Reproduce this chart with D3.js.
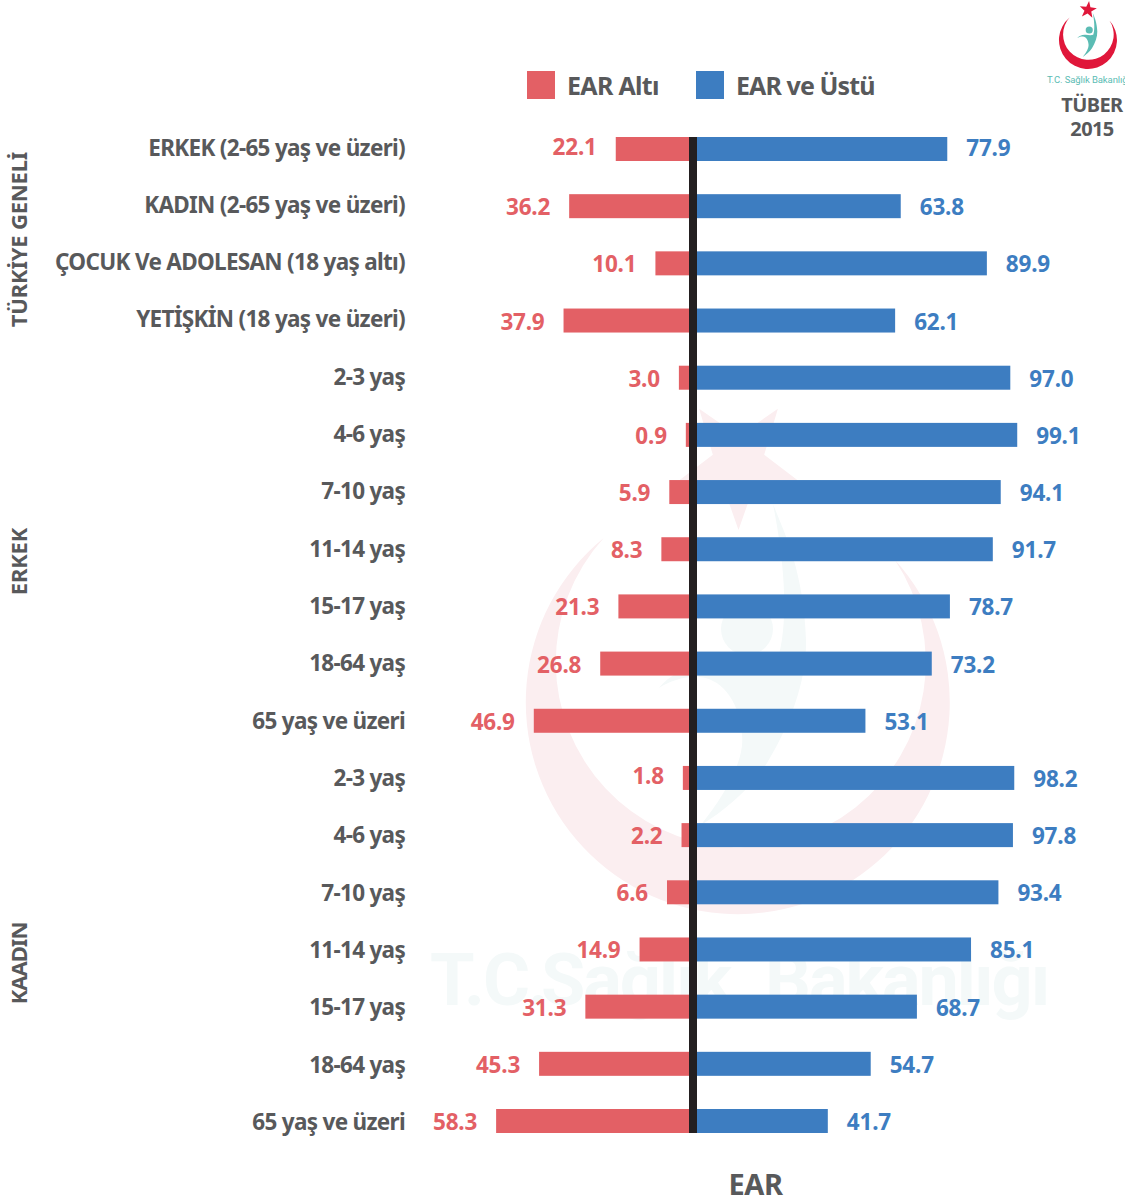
<!DOCTYPE html>
<html lang="tr">
<head>
<meta charset="utf-8">
<title>EAR Altı / EAR ve Üstü</title>
<script src="https://cdn.jsdelivr.net/npm/d3@7/dist/d3.min.js"></script>
<style>
  html, body { margin: 0; padding: 0; background: #fff; }
  svg { display: block; }
  text { font-family: "Noto Sans", Lato, sans-serif; font-weight: 700; }
</style>
</head>
<body>
<svg id="chart" width="1125" height="1202"></svg>
<script>
// Age and sex groups, top to bottom
const categories = [
  "ERKEK (2-65 yaş ve üzeri)", "KADIN (2-65 yaş ve üzeri)",
  "ÇOCUK Ve ADOLESAN (18 yaş altı)", "YETİŞKİN (18 yaş ve üzeri)",
  "2-3 yaş", "4-6 yaş", "7-10 yaş", "11-14 yaş", "15-17 yaş", "18-64 yaş", "65 yaş ve üzeri",
  "2-3 yaş", "4-6 yaş", "7-10 yaş", "11-14 yaş", "15-17 yaş", "18-64 yaş", "65 yaş ve üzeri"
];
const earAlti = [22.1, 36.2, 10.1, 37.9, 3.0, 0.9, 5.9, 8.3, 21.3, 26.8, 46.9, 1.8, 2.2, 6.6, 14.9, 31.3, 45.3, 58.3];
const earUstu = [77.9, 63.8, 89.9, 62.1, 97.0, 99.1, 94.1, 91.7, 78.7, 73.2, 53.1, 98.2, 97.8, 93.4, 85.1, 68.7, 54.7, 41.7];
const sideTitles = ["TÜRKİYE GENELİ", "ERKEK", "KAADIN"];
const legendLabels = ["EAR Altı", "EAR ve Üstü"];
const brandWords = ["T.C.", "Sağlık", "Bakanlığı"];

const RED = "#e36065", BLUE = "#3d7dc1", INK = "#58595b", AXIS = "#231f20";

const svg = d3.select("#chart");
// The two series grow outward from either side of the central line
const xLeft = d3.scaleLinear().domain([0, 60]).range([688.8, 490.5]);
const xRight = d3.scaleLinear().domain([0, 100]).range([690.2, 1020.2]);
const y = d3.scalePoint().domain(d3.range(categories.length)).range([149, 1121]);
const yLabel = d3.scalePoint().domain(d3.range(categories.length)).range([155.5, 1130]);
const BAR_H = 24;

// Star with five points, pointing up when rot is 0
function starPath(cx, cy, R, r, rot) {
  const pts = d3.range(10).map(i => {
    const a = rot + i * Math.PI / 5 - Math.PI / 2, q = i % 2 ? r : R;
    return [cx + q * Math.cos(a), cy + q * Math.sin(a)];
  });
  return d3.line()(pts) + "Z";
}

// Emblem shapes, authored at the size of the large background version
const crescent = "M603.7,538 A212,212 0 1 0 895,560 A185,185 0 1 1 603.7,538 Z";
const figure = "M773,504 C783,530 804,570 806,640 C807,680 790,725 767,763 C750,790 725,810 700,826 " +
               "C725,795 745,760 742,735 C740,705 725,680 700,677 C685,676 670,681 659,688 " +
               "C672,672 695,662 720,664 C745,667 765,668 776,664 C785,640 790,590 773,504 Z";

// Background emblem and wordmark
const bg = svg.append("g").attr("class", "watermark");
bg.append("path").attr("d", crescent).attr("fill", "#fbeef0");
bg.append("path").attr("d", starPath(738.5, 463, 67, 27, Math.PI)).attr("fill", "#fbeef0");
bg.append("circle").attr("cx", 747).attr("cy", 629).attr("r", 26).attr("fill", "#f4f9f9");
bg.append("path").attr("d", figure).attr("fill", "#f4f9f9");
const wordX = [430, 541, 765];
bg.selectAll("text").data(brandWords).join("text")
  .attr("x", (d, i) => wordX[i]).attr("y", 1005)
  .style("font-family", "Roboto").style("font-weight", 700).style("font-size", "72px").style("letter-spacing", "-2px")
  .attr("fill", "#f4f9f9").text(d => d);

// Bars
svg.append("g").selectAll("rect").data(earAlti).join("rect")
  .attr("x", d => xLeft(d)).attr("y", (d, i) => y(i) - BAR_H / 2)
  .attr("width", d => xLeft(0) - xLeft(d) + 1).attr("height", BAR_H).attr("fill", RED);
svg.append("g").selectAll("rect").data(earUstu).join("rect")
  .attr("x", xRight(0)).attr("y", (d, i) => y(i) - BAR_H / 2)
  .attr("width", d => xRight(d) - xRight(0)).attr("height", BAR_H).attr("fill", BLUE);

// Central reference line
svg.append("rect").attr("x", 689).attr("y", 137).attr("width", 8).attr("height", 996).attr("fill", AXIS);

const fmt = d3.format(".1f");
const FS = 22.5;
// A few value labels sit a little higher than the rest of their column
const leftRaise = new Map([[0, 3], [11, 3]]);
const rightRaise = new Map([[0, 2]]);

// Value labels
svg.append("g").selectAll("text").data(earAlti).join("text")
  .attr("x", d => xLeft(d) - 19).attr("y", (d, i) => y(i) + 9 - (leftRaise.get(i) || 0))
  .attr("text-anchor", "end").attr("fill", RED)
  .style("font-size", FS + "px").style("letter-spacing", "-0.2px").text(fmt);
svg.append("g").selectAll("text").data(earUstu).join("text")
  .attr("x", d => xRight(d) + 19).attr("y", (d, i) => y(i) + 9 - (rightRaise.get(i) || 0))
  .attr("fill", BLUE)
  .style("font-size", FS + "px").style("letter-spacing", "-0.2px").text(fmt);

// Category labels
svg.append("g").selectAll("text").data(categories).join("text")
  .attr("x", 405).attr("y", (d, i) => yLabel(i))
  .attr("text-anchor", "end").attr("fill", INK)
  .style("font-size", FS + "px").style("letter-spacing", "-0.7px").text(d => d);

// Section titles, read bottom to top
const sideCentres = [239.5, 561.5, 963.5];
const sideSpacing = [-0.2, -0.2, -1];
svg.append("g").selectAll("text").data(sideTitles).join("text")
  .attr("transform", (d, i) => `translate(27,${sideCentres[i]}) rotate(-90)`)
  .attr("text-anchor", "middle").attr("fill", INK)
  .style("font-size", "22px").style("letter-spacing", (d, i) => sideSpacing[i] + "px").text(d => d);

// Legend
const legend = svg.append("g");
[[527, RED, 567, -0.7], [696, BLUE, 736, -0.9]].forEach(([sx, c, tx, ls], i) => {
  legend.append("rect").attr("x", sx).attr("y", 71).attr("width", 28).attr("height", 28).attr("fill", c);
  legend.append("text").attr("x", tx).attr("y", 95).attr("fill", INK)
    .style("font-size", "25px").style("letter-spacing", ls + "px").text(legendLabels[i]);
});

// Axis title
svg.append("text").attr("x", 755.5).attr("y", 1195).attr("text-anchor", "middle")
  .attr("fill", INK).style("font-size", "29px").style("letter-spacing", "-0.5px").text("EAR");

// Corner emblem: the same crescent and figure reduced
const k = 29 / 212;
const logo = svg.append("g");
const shrink = `translate(1088,40) scale(${k}) translate(-738,-702)`;
logo.append("path").attr("d", crescent).attr("transform", shrink).attr("fill", "#e0173a");
logo.append("path").attr("d", starPath(1088, 10, 9, 3.6, 0.12)).attr("fill", "#e0173a");
logo.append("circle").attr("cx", 747).attr("cy", 629).attr("r", 26).attr("transform", shrink).attr("fill", "#5bbcb4");
logo.append("path").attr("d", figure).attr("transform", shrink).attr("fill", "#5bbcb4");
logo.append("text").attr("x", 1047).attr("y", 83).attr("fill", "#5bbcb4")
  .style("font-family", "Roboto").style("font-weight", 400).style("font-size", "9.5px").style("letter-spacing", "-0.1px")
  .text("T.C. Sağlık Bakanlığı");

// Survey caption
svg.append("g").selectAll("text").data(["TÜBER", "2015"]).join("text")
  .attr("x", 1092).attr("y", (d, i) => 112 + i * 24).attr("text-anchor", "middle")
  .attr("fill", INK).style("font-size", "20px").style("letter-spacing", "-0.6px").text(d => d);
</script>
</body>
</html>
